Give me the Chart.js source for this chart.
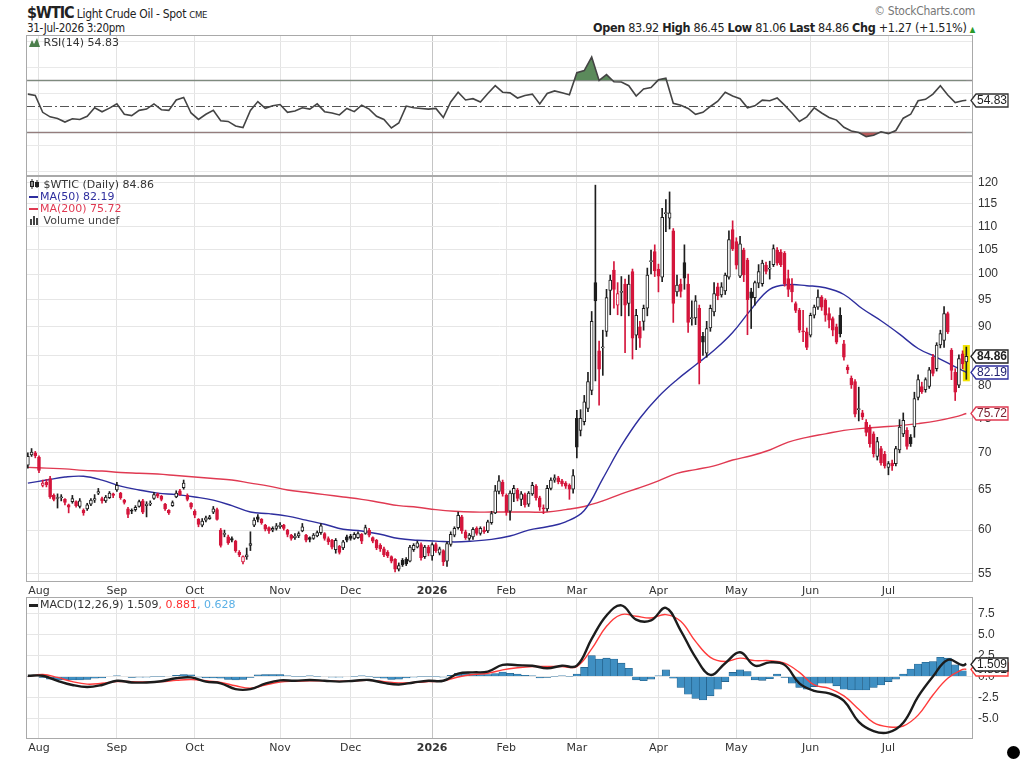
<!DOCTYPE html>
<html>
<head>
<meta charset="utf-8">
<title>$WTIC Light Crude Oil - Spot</title>
<script src="https://cdn.jsdelivr.net/npm/chart.js@4.4.1/dist/chart.umd.min.js"></script>
<style>
  body { margin: 0; background: #fff; }
  #page { position: relative; width: 1024px; height: 767px; overflow: hidden; background: #fff; color: #222;
          font-family: 'DejaVu Sans', Verdana, sans-serif; }
  canvas { position: absolute; left: 0; }
  .abs { position: absolute; white-space: nowrap; }
  .narrow { font-family: 'Liberation Sans Narrow', 'DejaVu Sans Condensed', sans-serif; letter-spacing: -0.3px; }
  .legend { font-size: 11px; line-height: 12px; color: #333; }
  .dash { display: inline-block; width: 9px; height: 2px; vertical-align: middle; margin-right: 2px; }
</style>
</head>
<body>
<div id="page">
  <div class="abs narrow" style="left:27px; top:3px; font-size:12px;"><b style="font-size:16px; letter-spacing:-1px;">$WTIC</b> Light Crude Oil - Spot <span style="font-size:9.5px;">CME</span></div>
  <div class="abs narrow" style="left:27px; top:21px; font-size:11.5px;">31-Jul-2026 3:20pm</div>
  <div class="abs narrow" style="right:49px; top:4px; font-size:12px; color:#777;">&copy; StockCharts.com</div>
  <div class="abs narrow" style="right:49px; top:20px; font-size:12.5px;"><b>Open</b> 83.92 <b>High</b> 86.45 <b>Low</b> 81.06 <b>Last</b> 84.86 <b>Chg</b> +1.27 (+1.51%) <span style="color:#2a9a2a; font-size:8px;">&#9650;</span></div>

  <canvas id="rsiChart" width="1024" height="141" style="top:35px;"></canvas>
  <canvas id="priceChart" width="1024" height="421" style="top:176px;"></canvas>
  <canvas id="macdChart" width="1024" height="160" style="top:597px;"></canvas>

  <div class="abs legend" style="left:29px; top:37px;"><svg width="11" height="9" style="vertical-align:-1px"><path d="M0 9 L3 2 L5 6 L8 0 L11 9 Z" fill="#4c7f4c"/></svg> RSI(14) 54.83</div>

  <div class="abs legend" style="left:29px; top:179px;">
    <div><svg width="11" height="10" style="vertical-align:-1px"><rect x="1.5" y="2.5" width="3" height="5" fill="#fff" stroke="#222"/><line x1="3" y1="0" x2="3" y2="10" stroke="#222"/><rect x="6.5" y="3.5" width="3" height="4" fill="#222" stroke="#222"/><line x1="8" y1="1" x2="8" y2="9" stroke="#222"/></svg> $WTIC (Daily) 84.86</div>
    <div style="color:#2e2e9e;"><span class="dash" style="background:#2e2e9e;"></span>MA(50) 82.19</div>
    <div style="color:#e03a52;"><span class="dash" style="background:#e03a52;"></span>MA(200) 75.72</div>
    <div style="color:#444;"><svg width="11" height="10" style="vertical-align:-1px"><rect x="1" y="4" width="2" height="6" fill="#444"/><rect x="4" y="1" width="2" height="9" fill="#444"/><rect x="7" y="3" width="2" height="7" fill="#444"/></svg> Volume undef</div>
  </div>

  <div class="abs legend" style="left:29px; top:599px;"><span class="dash" style="background:#222; height:3px;"></span>MACD(12,26,9) 1.509<span style="color:#ff3030;">, 0.881</span><span style="color:#5ab0e6;">, 0.628</span></div>

  <div class="abs" style="left:1007px; top:746px; width:13px; height:13px; border-radius:50%; background:#000;"></div>
</div>

<script>
// daily bars, index 0 = 29-Jul-2025, index 253 = 31-Jul-2026
const LAST_BAR = 253;
const MONTH_TICKS = [3, 24, 45, 68, 87, 109, 129, 148, 170, 191, 211, 232];
const MONTH_LABELS = ['Aug', 'Sep', 'Oct', 'Nov', 'Dec', '2026', 'Feb', 'Mar', 'Apr', 'May', 'Jun', 'Jul'];
const YEAR_TICK = 109;
const PRICE_TICKS = [55, 60, 65, 70, 75, 80, 85, 90, 95, 100, 105, 110, 115, 120];
const RSI_TICKS = [0, 10, 20, 30, 40, 50, 60, 70, 80, 90, 100];
const RSI_LABELED = [10, 30, 50, 70, 90];
const RSI_BANDS = [30, 70];
const RSI_MID = 50;
const MACD_TICKS = [-5, -2.5, 0, 2.5, 5, 7.5];

const OPEN = [
  68.3,69.7,70.0,69.4,65.6,66.0,66.5,64.3,63.9,64.0,
  63.8,63.1,63.5,63.5,62.9,62.4,62.6,63.2,63.7,64.6,
  63.9,63.6,64.0,64.5,65.0,64.6,63.7,62.6,62.4,62.5,
  62.9,63.6,63.0,63.2,63.9,64.5,64.2,63.2,62.4,63.0,
  64.1,64.9,65.3,64.3,63.3,62.3,61.3,60.6,61.2,61.4,
  62.2,62.5,60.0,59.5,59.2,59.0,58.7,57.4,56.3,56.9,
  58.2,60.6,61.6,61.3,60.6,60.3,60.0,60.2,60.4,60.6,
  60.0,59.4,59.1,59.3,59.9,59.4,59.1,59.0,59.3,59.7,
  59.6,59.0,58.8,57.7,58.1,57.9,59.2,59.3,59.0,59.1,
  59.5,59.6,60.0,59.1,58.8,58.2,57.8,57.4,56.9,56.6,
  55.5,56.5,56.6,56.4,57.7,58.0,58.3,56.9,58.0,57.0,
  58.3,57.3,57.6,56.4,58.3,59.4,60.3,61.6,59.8,59.0,
  59.2,60.2,59.6,60.0,59.9,60.9,62.1,64.8,66.0,64.3,
  62.3,64.5,65.0,63.8,64.4,63.2,64.5,65.5,64.0,62.7,
  62.6,65.2,66.3,66.6,66.2,65.9,65.6,65.1,75.0,73.2,
  74.5,76.5,79.3,98.3,85.8,86.3,89.2,96.8,100.8,94.0,
  96.4,98.0,94.3,100.5,88.5,90.0,91.0,93.4,102.5,104.6,
  101.0,99.4,112.8,111.8,109.0,96.5,98.0,102.3,98.0,91.5,
  91.6,93.4,88.3,85.4,89.8,92.7,97.5,95.9,96.7,99.4,
  109.3,106.7,99.6,104.9,102.8,96.5,95.4,98.2,98.1,101.8,
  101.0,101.9,104.9,104.5,104.2,99.1,97.8,94.3,93.0,89.3,
  89.1,88.5,92.1,93.6,95.5,94.9,92.4,91.5,90.0,92.1,
  87.0,83.0,81.2,80.7,76.3,75.8,74.4,73.7,72.7,69.5,
  70.6,69.8,68.0,68.6,68.5,70.4,72.7,73.2,72.2,73.7,
  78.2,79.9,79.4,79.9,84.7,82.8,86.8,87.6,92.4,85.9,
  82.2,80.1,85.3,83.92
];
const HIGH = [
  70.0,70.6,70.2,69.6,66.3,66.4,66.8,64.5,64.5,64.4,
  63.9,63.2,64.3,63.6,63.9,62.6,63.3,63.9,64.4,65.2,
  64.1,64.3,64.8,64.6,66.0,64.7,63.8,62.8,62.6,63.0,
  63.7,63.8,63.5,63.6,64.7,64.6,64.3,63.3,62.5,63.6,
  64.9,65.1,66.3,64.5,63.4,62.5,61.4,61.4,61.7,61.8,
  62.9,62.7,60.2,60.0,59.4,59.2,58.8,57.6,57.0,57.9,
  59.8,61.5,61.9,61.4,60.7,60.4,60.4,60.8,60.9,60.7,
  60.1,59.5,59.6,59.8,60.8,59.5,59.2,59.6,59.9,60.8,
  59.7,59.2,58.9,59.0,58.2,58.8,59.4,59.5,59.7,59.8,
  59.6,60.6,60.2,59.2,58.9,58.4,58.0,57.6,57.0,56.7,
  56.2,56.7,56.8,58.2,58.4,58.7,58.5,58.2,58.2,58.5,
  58.5,58.0,57.7,58.6,59.8,60.4,62.2,61.8,60.0,59.6,
  60.3,60.4,60.4,60.4,61.2,62.3,65.6,66.9,66.3,64.5,
  64.9,65.6,65.2,64.8,64.6,64.8,66.0,65.7,64.2,63.1,
  65.6,66.6,67.0,66.8,66.4,66.1,65.8,67.7,76.2,76.3,
  78.5,82.2,92.8,119.4,87.5,89.4,97.0,99.8,102.5,98.3,
  99.5,99.0,99.8,101.0,93.2,91.0,94.0,101.2,104.9,106.0,
  102.0,114.0,116.0,117.8,109.5,99.8,99.0,106.0,100.0,94.8,
  95.8,94.0,89.0,91.0,94.0,98.3,98.2,98.3,100.2,109.0,
  111.2,107.5,107.8,105.3,103.2,97.2,98.6,101.9,102.8,102.4,
  102.6,106.0,105.4,105.0,104.6,100.8,99.1,94.6,93.4,93.0,
  89.8,92.5,94.0,96.9,95.8,95.2,93.5,91.8,90.5,93.5,
  87.6,83.4,81.6,81.0,79.8,76.2,74.8,74.0,73.0,72.2,
  70.9,70.2,68.8,69.0,70.9,74.8,75.8,73.6,72.6,79.0,
  81.8,80.6,81.3,83.0,85.2,87.2,89.4,93.7,92.7,86.2,
  82.8,85.1,85.8,86.45
];
const LOW = [
  67.9,69.5,69.3,67.3,65.4,65.4,63.9,63.6,62.7,63.6,
  63.1,62.1,63.3,62.8,62.7,61.8,62.4,63.0,63.4,64.4,
  63.3,63.4,63.9,64.0,64.8,63.8,63.2,61.5,62.0,62.3,
  62.8,62.0,61.6,63.0,63.8,64.0,63.6,62.4,61.9,62.9,
  64.0,64.3,65.1,63.6,62.6,61.5,60.4,60.4,61.0,61.3,
  62.0,61.2,58.0,59.2,58.3,58.6,57.4,56.9,56.1,56.6,
  57.6,60.4,61.0,60.7,59.9,59.6,59.8,60.0,60.2,60.0,
  59.2,58.8,58.9,59.1,59.8,58.6,58.6,58.9,59.2,59.5,
  58.8,58.3,57.8,57.3,57.2,57.7,58.6,58.8,58.9,59.0,
  58.4,59.5,59.2,58.5,57.7,57.5,56.9,56.8,56.2,55.2,
  55.3,55.8,55.9,56.3,57.5,57.9,56.5,56.7,57.0,56.5,
  57.4,57.1,55.9,55.8,58.1,59.2,60.1,59.6,58.9,58.8,
  58.9,59.4,59.4,59.6,59.7,60.7,62.0,64.5,64.2,61.8,
  61.2,63.5,63.6,63.0,62.8,62.9,64.3,63.7,62.4,62.0,
  62.3,65.0,66.0,65.8,65.5,65.2,63.8,64.6,69.3,72.4,
  74.0,76.0,78.6,80.8,77.0,81.7,88.3,92.2,93.4,92.2,
  92.0,85.5,92.0,84.4,86.0,86.4,89.4,92.0,100.0,99.5,
  96.5,98.5,108.8,109.4,90.8,95.7,95.5,97.0,89.0,90.3,
  90.4,80.3,85.0,84.7,89.2,92.0,95.0,95.5,96.0,99.0,
  104.8,101.0,99.3,98.5,88.6,89.7,94.0,97.3,97.6,100.0,
  99.0,101.5,101.8,101.5,97.6,95.6,94.6,92.6,89.0,87.4,
  86.0,88.2,91.6,93.2,93.0,91.0,89.8,88.4,87.0,88.2,
  84.2,82.0,79.6,75.2,74.6,74.8,72.4,70.8,69.4,69.0,
  68.3,67.9,67.0,67.6,68.2,70.0,72.3,70.5,70.9,72.2,
  77.8,78.8,79.0,79.6,81.6,82.4,86.3,86.4,88.8,81.0,
  77.7,79.7,82.8,81.06
];
const CLOSE = [
  69.5,70.1,69.6,67.6,65.9,65.7,64.1,63.8,64.0,64.1,
  63.4,62.8,63.9,63.0,63.6,62.1,63.1,63.7,63.9,64.8,
  63.6,64.1,64.6,64.3,65.6,64.0,63.4,61.9,62.3,62.8,
  63.5,62.2,63.2,63.3,64.4,64.2,63.8,62.6,62.1,63.4,
  64.6,64.4,65.9,63.8,62.8,61.8,60.7,61.1,61.5,61.6,
  62.6,61.3,58.2,59.6,58.5,58.8,57.6,57.1,56.9,57.1,
  58.4,61.2,61.3,60.9,60.1,59.9,60.2,60.5,60.6,60.2,
  59.5,59.0,59.3,59.6,60.4,58.8,58.9,59.4,59.7,60.5,
  59.0,58.6,58.0,58.8,57.4,58.6,58.8,59.0,59.5,59.6,
  58.7,60.3,59.4,58.7,57.9,57.8,57.1,57.0,56.4,55.5,
  55.9,56.0,56.1,58.0,58.2,58.5,56.8,58.0,57.3,58.3,
  57.6,57.8,56.3,58.4,59.5,60.2,61.8,59.9,59.1,59.4,
  60.1,59.6,60.2,59.8,61.0,62.0,64.9,66.2,64.5,62.2,
  64.6,65.2,63.9,64.5,63.1,64.6,65.6,64.0,62.8,62.6,
  65.2,66.3,66.6,66.1,65.8,65.5,65.1,66.9,70.8,75.0,
  77.5,80.7,91.0,94.8,82.7,86.5,95.4,98.8,97.0,96.2,
  96.6,94.0,98.0,88.0,92.1,88.0,93.4,99.8,102.7,100.6,
  99.6,112.0,112.9,113.0,94.3,97.8,96.6,99.2,90.8,91.6,
  94.8,83.8,87.3,89.7,93.4,96.2,95.8,97.5,99.8,107.1,
  105.2,101.8,106.2,99.8,95.0,95.3,98.3,100.5,102.2,100.5,
  101.2,105.2,102.2,101.9,98.1,97.0,96.5,93.0,89.4,89.1,
  86.4,92.1,93.6,95.5,93.6,92.1,91.2,89.4,87.3,88.8,
  84.7,82.6,80.2,75.6,76.4,75.2,72.9,71.3,69.9,71.6,
  68.6,68.2,68.5,68.2,70.6,73.7,74.7,70.9,71.3,78.0,
  81.0,79.1,81.0,82.6,82.0,86.8,88.8,92.4,89.1,82.5,
  79.0,84.5,83.59,84.86
];

// moving averages, one value every 5 bars (last one on the final bar)
const MA_STEP = 5;
const MA50 = [
  65.9,66.3,66.7,66.8,66.3,65.5,65.0,64.6,64.4,64.1,
  63.7,63.0,62.2,62.0,61.7,61.2,60.7,60.1,59.9,59.5,
  59.0,58.8,58.7,58.6,58.7,58.9,59.3,60.0,60.4,61.0,
  62.4,66.5,71.0,75.0,78.3,81.0,83.4,85.9,89.0,93.2,
  97.0,97.9,97.7,97.3,96.0,93.3,91.1,88.7,86.2,84.7,
  83.1,82.19
];
const MA200 = [
  68.0,67.9,67.8,67.6,67.5,67.3,67.2,67.1,66.9,66.7,
  66.5,66.3,65.9,65.5,65.0,64.7,64.4,64.1,63.8,63.4,
  63.0,62.8,62.5,62.3,62.2,62.2,62.2,62.2,62.2,62.5,
  62.9,63.6,64.5,65.3,66.2,67.2,67.7,68.2,69.0,69.6,
  70.4,71.5,72.2,72.7,73.2,73.5,73.7,73.9,74.2,74.6,
  75.2,75.72
];

// RSI(14), one value every 2 bars
const RSI_STEP = 2;
const RSI = [
  59.5,58.5,45.5,42.0,40.7,38.0,40.5,40.0,42.5,49.0,
  45.9,48.7,52.0,44.0,43.0,47.0,48.0,52.0,47.5,47.0,
  55.0,57.0,45.0,40.0,44.0,47.0,39.0,38.5,35.0,33.8,
  47.0,53.8,48.6,50.5,51.5,45.5,46.5,49.0,48.0,52.0,
  46.0,45.0,43.5,48.5,46.0,51.0,48.0,42.5,40.0,33.5,
  37.3,50.3,49.0,48.5,48.0,48.5,41.5,53.5,61.0,55.0,
  56.0,53.5,60.0,66.0,61.0,60.5,56.5,58.5,59.5,52.0,
  60.0,62.0,60.5,59.0,76.0,77.6,88.0,70.0,74.5,69.0,
  68.8,66.0,58.0,63.5,64.5,70.5,71.7,52.5,51.0,48.5,
  44.0,45.5,50.0,54.0,61.0,58.0,56.0,49.0,50.5,54.9,
  54.4,56.5,51.0,45.0,38.5,42.0,49.0,45.0,41.5,39.5,
  34.0,31.1,30.0,26.8,27.8,30.5,29.1,31.5,41.0,44.0,
  54.4,55.5,59.5,66.0,58.8,53.0,54.4,54.83
];

// MACD(12,26,9) lines, one value every 4 bars; histogram every 2 bars
const MACD_STEP = 4;
const MACD = [
  0.1,0.1,-0.5,-1.0,-1.25,-1.0,-0.5,-0.7,-0.7,-0.55,
  -0.2,-0.1,-0.6,-0.8,-1.5,-1.5,-0.85,-0.45,-0.5,-0.4,
  -0.5,-0.6,-0.5,-0.4,-0.75,-0.95,-0.7,-0.5,-0.5,0.35,
  0.5,0.6,1.4,1.35,1.3,1.0,1.3,1.3,4.5,7.3,
  8.5,6.8,6.7,8.2,5.5,2.3,0.2,1.6,2.9,1.3,
  1.7,1.4,-0.8,-1.7,-2.0,-2.9,-5.4,-6.5,-6.65,-5.5,
  -2.4,0.0,2.0,1.35,1.509
];
const SIGNAL = [
  0.0,0.25,-0.1,-0.6,-0.9,-0.8,-0.6,-0.6,-0.65,-0.6,
  -0.45,-0.35,-0.5,-0.7,-1.1,-1.4,-1.0,-0.65,-0.55,-0.5,
  -0.5,-0.55,-0.5,-0.45,-0.6,-0.75,-0.7,-0.6,-0.5,-0.05,
  0.25,0.4,0.8,1.05,1.2,1.2,1.2,1.2,3.3,6.0,
  7.4,7.2,7.0,7.4,6.6,4.2,2.3,1.8,2.2,1.9,
  1.9,1.6,0.5,-1.0,-1.4,-2.3,-3.9,-5.5,-6.0,-5.9,
  -4.6,-2.2,-0.2,0.85,0.881
];
const HIST_STEP = 2;
const HIST = [
  0.05,0.1,-0.1,-0.3,-0.4,-0.4,-0.4,-0.4,-0.35,-0.2,
  -0.15,0.0,0.1,0.0,-0.1,-0.05,-0.05,0.05,0.05,0.0,
  0.15,0.25,0.2,-0.05,-0.15,-0.15,-0.2,-0.35,-0.4,-0.35,
  -0.1,0.2,0.25,0.25,0.25,0.1,0.05,0.05,0.1,0.05,
  0.0,-0.05,-0.05,0.0,0.05,0.1,0.05,-0.1,-0.2,-0.35,
  -0.3,-0.15,-0.05,0.05,0.05,0.05,-0.05,0.15,0.4,0.35,
  0.3,0.25,0.25,0.35,0.55,0.4,0.3,0.15,0.1,-0.15,
  -0.1,0.05,0.1,0.05,0.3,1.1,2.5,2.1,2.2,2.1,
  1.6,1.0,-0.4,-0.5,-0.3,0.1,0.8,-0.2,-1.3,-2.1,
  -2.6,-2.8,-2.3,-1.5,-0.6,0.5,0.8,0.6,-0.4,-0.45,
  -0.25,0.3,-0.1,-0.8,-1.3,-1.5,-1.2,-0.8,-0.8,-1.1,
  -1.5,-1.6,-1.6,-1.6,-1.3,-1.0,-0.6,-0.3,0.3,0.9,
  1.5,1.7,1.8,2.3,2.2,1.4,0.7
];

const FONT_UI = "'DejaVu Sans', Verdana, sans-serif";
const FONT_AXIS = "'Liberation Sans', Arial, sans-serif";
const X_MIN = -0.5;
const X_MAX = 254.8;
const UP_COLOR = '#1e1e1e';
const DOWN_COLOR = '#d4163c';
const MA50_COLOR = '#2e2e9e';
const MA200_COLOR = '#e03a52';

function seriesPoints(values, step) {
  return values.map((v, i) => ({ x: Math.min(i * step, LAST_BAR), y: v }));
}

function monthAxis(height, showLabels) {
  return {
    type: 'linear',
    min: X_MIN,
    max: X_MAX,
    bounds: 'data',
    offset: false,
    afterBuildTicks: s => { s.ticks = MONTH_TICKS.map(v => ({ value: v })); },
    afterFit: s => { s.height = height; s.paddingLeft = 0; s.paddingRight = 0; },
    border: { display: false },
    grid: {
      offset: false,
      drawTicks: false,
      color: c => (c.tick && c.tick.value === YEAR_TICK ? '#c4c4c4' : '#e3e3e3')
    },
    ticks: {
      display: showLabels,
      autoSkip: false,
      maxRotation: 0,
      padding: 3,
      color: '#333',
      font: c => ({ family: FONT_UI, size: 11, weight: c.tick && c.tick.value === YEAR_TICK ? 'bold' : 'normal' }),
      callback: v => MONTH_LABELS[MONTH_TICKS.indexOf(v)]
    }
  };
}

function valueAxis(type, min, max, tickValues, label, gridColor) {
  return {
    type,
    position: 'right',
    min,
    max,
    bounds: 'data',
    afterBuildTicks: s => { s.ticks = tickValues.map(v => ({ value: v })); },
    afterFit: s => { s.width = 51; s.paddingTop = 0; s.paddingBottom = 0; },
    border: { display: false },
    grid: { drawTicks: false, color: gridColor || '#e6e6e6' },
    ticks: { padding: 5, color: '#333', font: { family: FONT_AXIS, size: 12 }, callback: label }
  };
}

const baseOptions = {
  responsive: false,
  animation: false,
  events: [],
  layout: { padding: { left: 26, right: 0, top: 0, bottom: 0 } },
  plugins: { legend: { display: false }, tooltip: { enabled: false } }
};

const panelFrame = {
  id: 'panelFrame',
  afterDatasetsDraw(chart) {
    const { ctx, chartArea: a } = chart;
    ctx.save();
    ctx.strokeStyle = '#a9a9a9';
    ctx.lineWidth = 1;
    ctx.strokeRect(Math.round(a.left) + 0.5, Math.round(a.top) + 0.5, Math.round(a.width) - 1, Math.round(a.height) - 1);
    ctx.restore();
  }
};

// value boxes on the right axis
const valueTags = {
  id: 'valueTags',
  afterDraw(chart, args, opts) {
    const { ctx, chartArea, scales } = chart;
    (opts.tags || []).forEach(tag => {
      const y = Math.round(scales.y.getPixelForValue(tag.value)) + 0.5;
      const tip = chartArea.right - 2;
      const left = tip + 5;
      const right = tip + 37;
      const h = 6.5;
      ctx.save();
      ctx.beginPath();
      ctx.moveTo(tip, y);
      ctx.lineTo(left, y - h);
      ctx.lineTo(right, y - h);
      ctx.lineTo(right, y + h);
      ctx.lineTo(left, y + h);
      ctx.closePath();
      ctx.fillStyle = '#fff';
      ctx.fill();
      ctx.lineWidth = 1.3;
      ctx.strokeStyle = tag.color;
      ctx.stroke();
      ctx.font = (tag.bold ? 'bold ' : '') + '12px ' + FONT_AXIS;
      ctx.fillStyle = tag.textColor || '#222';
      ctx.textBaseline = 'middle';
      ctx.fillText(tag.text, left + 1, y + 0.5);
      ctx.restore();
    });
  }
};

const rsiGuides = {
  id: 'rsiGuides',
  beforeDatasetsDraw(chart) {
    const { ctx, chartArea: a, scales: { y } } = chart;
    ctx.save();
    ctx.strokeStyle = '#8a8a8a';
    ctx.lineWidth = 1.6;
    RSI_BANDS.forEach(v => {
      const py = Math.round(y.getPixelForValue(v)) + 0.5;
      ctx.beginPath(); ctx.moveTo(a.left, py); ctx.lineTo(a.right, py); ctx.stroke();
    });
    const pm = Math.round(y.getPixelForValue(RSI_MID)) + 0.5;
    ctx.strokeStyle = '#555';
    ctx.lineWidth = 1;
    ctx.setLineDash([9, 3, 2, 3]);
    ctx.beginPath(); ctx.moveTo(a.left, pm); ctx.lineTo(a.right, pm); ctx.stroke();
    ctx.restore();
  }
};

const lastBarHighlight = {
  id: 'lastBarHighlight',
  beforeDatasetsDraw(chart) {
    const { ctx, scales: { x, y } } = chart;
    const px = x.getPixelForValue(LAST_BAR);
    const top = y.getPixelForValue(HIGH[LAST_BAR]) - 2;
    const bottom = y.getPixelForValue(LOW[LAST_BAR]) + 2;
    ctx.save();
    ctx.fillStyle = '#f2e400';
    ctx.fillRect(px - 3.5, top, 7, bottom - top);
    ctx.restore();
  }
};

// RSI panel
new Chart(document.getElementById('rsiChart'), {
  type: 'line',
  data: {
    datasets: [
      {
        data: seriesPoints(RSI, RSI_STEP),
        borderColor: '#444',
        borderWidth: 1.6,
        pointRadius: 0,
        tension: 0,
        fill: { target: { value: 70 }, above: '#5b8a5b', below: 'rgba(0,0,0,0)' }
      },
      {
        data: seriesPoints(RSI, RSI_STEP),
        borderWidth: 0,
        pointRadius: 0,
        tension: 0,
        fill: { target: { value: 30 }, above: 'rgba(0,0,0,0)', below: '#b85a5a' }
      }
    ]
  },
  options: Object.assign({}, baseOptions, {
    scales: {
      x: monthAxis(0, false),
      y: valueAxis('linear', -3.5, 105, RSI_TICKS, v => (RSI_LABELED.includes(v) ? String(v) : ''), '#e9e9e9')
    },
    plugins: Object.assign({}, baseOptions.plugins, {
      valueTags: { tags: [{ value: RSI[RSI.length - 1], text: RSI[RSI.length - 1].toFixed(2), color: '#333' }] }
    })
  }),
  plugins: [rsiGuides, panelFrame, valueTags]
});

// price panel
const candleColors = CLOSE.map((c, i) => (c < (i > 0 ? CLOSE[i - 1] : OPEN[i]) ? DOWN_COLOR : UP_COLOR));
const bodyFills = CLOSE.map((c, i) => (c > OPEN[i] ? '#ffffff' : candleColors[i]));

new Chart(document.getElementById('priceChart'), {
  type: 'bar',
  data: {
    datasets: [
      {
        type: 'line',
        data: seriesPoints(MA200, MA_STEP),
        borderColor: MA200_COLOR,
        borderWidth: 1.4,
        pointRadius: 0,
        tension: 0.4,
        order: 6
      },
      {
        type: 'line',
        data: seriesPoints(MA50, MA_STEP),
        borderColor: MA50_COLOR,
        borderWidth: 1.4,
        pointRadius: 0,
        tension: 0.4,
        order: 5
      },
      {
        data: OPEN.map((_, i) => ({ x: i, y: [LOW[i], HIGH[i]] })),
        backgroundColor: candleColors,
        barThickness: 1,
        grouped: false,
        order: 4
      },
      {
        data: OPEN.map((o, i) => ({ x: i, y: [o, CLOSE[i]] })),
        backgroundColor: bodyFills,
        borderColor: candleColors,
        borderWidth: 1,
        borderSkipped: false,
        barThickness: 3,
        minBarLength: 1,
        grouped: false,
        order: 3
      }
    ]
  },
  options: Object.assign({}, baseOptions, {
    scales: {
      x: monthAxis(15, true),
      y: valueAxis('logarithmic', 54.1, 121.6, PRICE_TICKS, v => String(v))
    },
    plugins: Object.assign({}, baseOptions.plugins, {
      valueTags: {
        tags: [
          { value: MA200[MA200.length - 1], text: MA200[MA200.length - 1].toFixed(2), color: MA200_COLOR, textColor: '#7a2030' },
          { value: MA50[MA50.length - 1], text: MA50[MA50.length - 1].toFixed(2), color: MA50_COLOR, textColor: '#22226e' },
          { value: CLOSE[LAST_BAR], text: CLOSE[LAST_BAR].toFixed(2), color: '#222', bold: true }
        ]
      }
    })
  }),
  plugins: [lastBarHighlight, panelFrame, valueTags]
});

// MACD panel
new Chart(document.getElementById('macdChart'), {
  type: 'bar',
  data: {
    datasets: [
      {
        type: 'line',
        data: seriesPoints(MACD, MACD_STEP),
        borderColor: '#1c1c1c',
        borderWidth: 2.4,
        pointRadius: 0,
        tension: 0.4,
        order: 1
      },
      {
        type: 'line',
        data: seriesPoints(SIGNAL, MACD_STEP),
        borderColor: '#ff3b3b',
        borderWidth: 1.4,
        pointRadius: 0,
        tension: 0.4,
        order: 2
      },
      {
        data: seriesPoints(HIST, HIST_STEP),
        backgroundColor: '#3f8fc2',
        borderColor: '#1f5a82',
        borderWidth: 0.6,
        barThickness: 7.4,
        grouped: false,
        order: 3
      }
    ]
  },
  options: Object.assign({}, baseOptions, {
    scales: {
      x: monthAxis(18, true),
      y: valueAxis('linear', -7.45, 9.5, MACD_TICKS, v => v.toFixed(1))
    },
    plugins: Object.assign({}, baseOptions.plugins, {
      valueTags: {
        tags: [
          { value: SIGNAL[SIGNAL.length - 1], text: SIGNAL[SIGNAL.length - 1].toFixed(3), color: '#ff3b3b' },
          { value: MACD[MACD.length - 1], text: MACD[MACD.length - 1].toFixed(3), color: '#222' }
        ]
      }
    })
  }),
  plugins: [panelFrame, valueTags]
});
</script>
</body>
</html>
